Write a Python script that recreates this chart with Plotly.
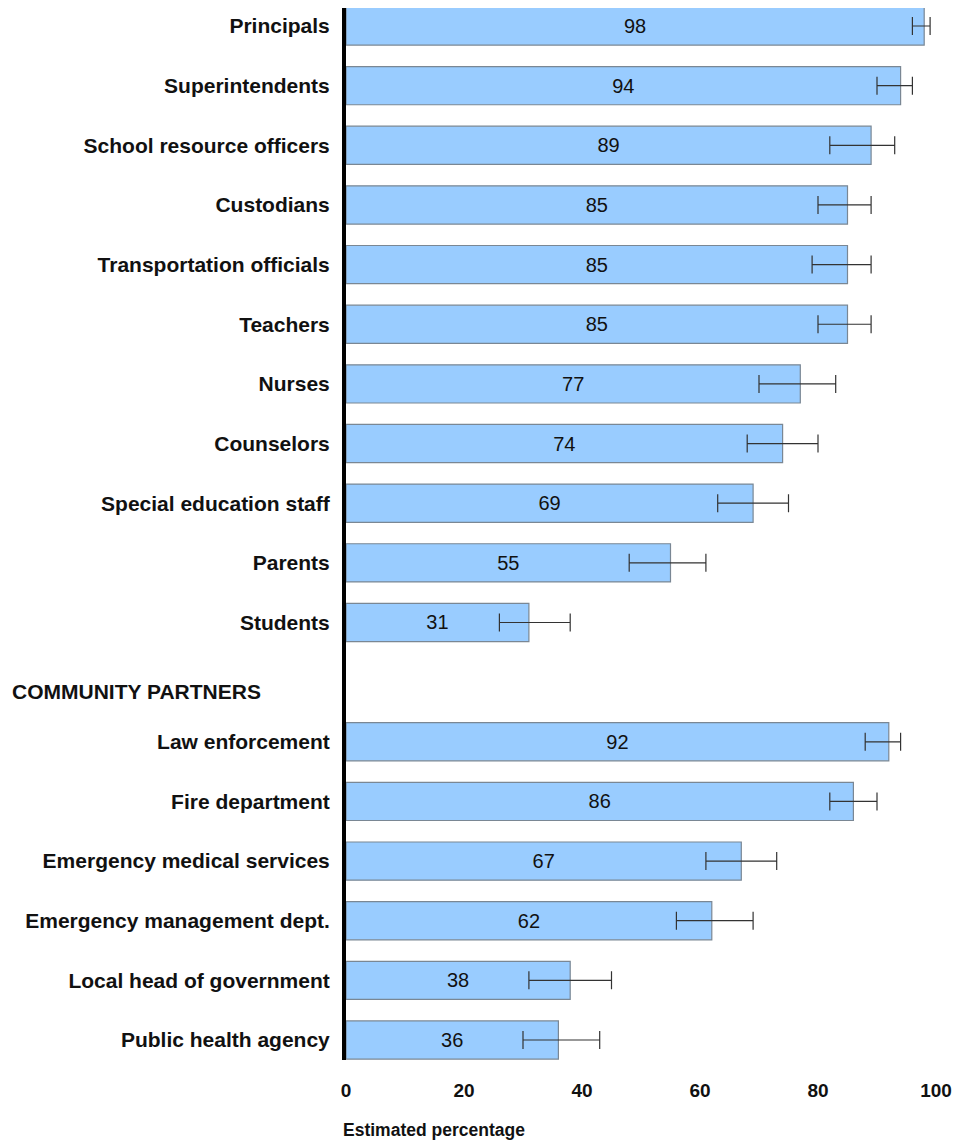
import plotly.graph_objects as go

categories = ["Principals", "Superintendents", "School resource officers", "Custodians",
              "Transportation officials", "Teachers", "Nurses", "Counselors",
              "Special education staff", "Parents", "Students", "",
              "Law enforcement", "Fire department", "Emergency medical services",
              "Emergency management dept.", "Local head of government", "Public health agency"]
values = [98, 94, 89, 85, 85, 85, 77, 74, 69, 55, 31, None, 92, 86, 67, 62, 38, 36]
ci_low = [96, 90, 82, 80, 79, 80, 70, 68, 63, 48, 26, None, 88, 82, 61, 56, 31, 30]
ci_high = [99, 96, 93, 89, 89, 89, 83, 80, 75, 61, 38, None, 94, 90, 73, 69, 45, 43]
group_label = "COMMUNITY PARTNERS"
x_ticks = [0, 20, 40, 60, 80, 100]
x_title = "Estimated percentage"

ypos = list(range(len(categories)))
err_plus = [(h - v) if v is not None else None for v, h in zip(values, ci_high)]
err_minus = [(v - l) if v is not None else None for v, l in zip(values, ci_low)]

FONT = "Liberation Sans, Arial, sans-serif"

fig = go.Figure()
fig.add_trace(go.Bar(
    x=values, y=ypos, orientation="h", width=0.64,
    marker=dict(color="#99CCFF", line=dict(color="#7A8794", width=1.2)),
    text=[str(v) if v is not None else "" for v in values],
    textposition="inside", insidetextanchor="middle",
    textfont=dict(family=FONT, size=20, color="#111111"),
    error_x=dict(type="data", symmetric=False, array=err_plus, arrayminus=err_minus,
                 color="#333333", thickness=1.2, width=9),
    hoverinfo="skip",
))

fig.update_layout(
    width=964, height=1133,
    margin=dict(l=338, r=36, t=0, b=81),
    plot_bgcolor="white", paper_bgcolor="white",
    showlegend=False,
    font=dict(family=FONT, color="#111111"),
    xaxis=dict(range=[0, 100], tickvals=x_ticks, showgrid=False, zeroline=False,
               showline=False, ticks="outside", ticklen=13, tickcolor="rgba(0,0,0,0)",
               tickfont=dict(size=19, weight="bold")),
    yaxis=dict(range=[17.335, -0.302], tickvals=ypos, ticktext=categories,
               showgrid=False, zeroline=False, showline=True, linecolor="black",
               linewidth=4, ticks="", ticklabelstandoff=8,
               tickfont=dict(size=21, weight="bold")),
)

fig.add_annotation(xref="paper", yref="y", x=-336/590, y=11.15, xanchor="left",
                   yanchor="middle", text="<b>" + group_label + "</b>", showarrow=False,
                   font=dict(size=21))
fig.add_annotation(xref="paper", yref="paper", x=-5/590, y=-70/1052, xanchor="left",
                   yanchor="middle", text="<b>" + x_title + "</b>", showarrow=False,
                   font=dict(size=17.5))

fig.write_html("out.html")
